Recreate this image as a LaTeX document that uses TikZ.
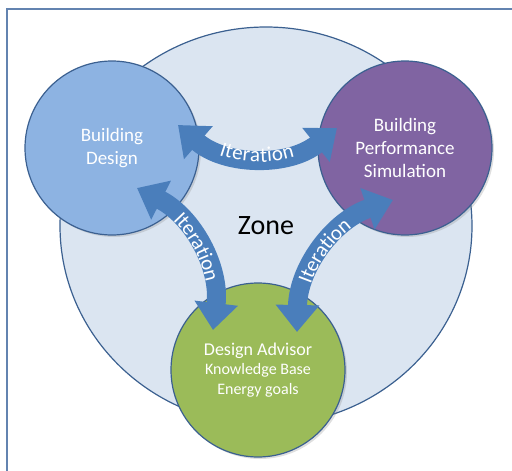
\documentclass[tikz,border=0pt]{standalone}
\usepackage{fontspec}
\setmainfont{Carlito}
\usepackage{tikz}
\usetikzlibrary{shapes.geometric}
\usetikzlibrary{arrows.meta}
\usetikzlibrary{decorations.text}
\usetikzlibrary{shadows}
\definecolor{zonefill}{HTML}{DBE5F1}
\definecolor{zoneline}{HTML}{3B6090}
\definecolor{framecol}{HTML}{6383B0}
\definecolor{designcol}{HTML}{8DB3E2}
\definecolor{simcol}{HTML}{8064A2}
\definecolor{advisorcol}{HTML}{9BBB59}
\definecolor{itercol}{HTML}{4A7EBB}
\tikzstyle{zone}=[ellipse,draw=zoneline,fill=zonefill,line width=1.2pt,minimum width=412pt,minimum height=398pt,inner sep=0pt,
  font=\fontsize{28}{30}\selectfont]
\tikzstyle{stage}=[circle,draw=zoneline,line width=1.2pt,minimum size=174pt,inner sep=0pt,align=center,text=white,
  font=\fontsize{19}{23}\selectfont,drop shadow={opacity=0.25,shadow xshift=2pt,shadow yshift=-2pt}]
\tikzstyle{iter}=[draw=itercol,line width=19pt,{Triangle[width=42pt,length=27pt]}-{Triangle[width=42pt,length=27pt]}]
\tikzstyle{itertext}=[decorate,decoration={text along path,text align=center,raise=-5.5pt,
  text={|\color{white}\fontsize{21}{21}\selectfont|Iteration}}]
\tikzset{every picture/.style={x=1pt,y=-1pt}}

\begin{document}
\begin{tikzpicture}
  \useasboundingbox (0,0) rectangle (512,471);
  \draw[framecol,line width=2pt] (512,9) -- (7,9) -- (7,471);
  \node[zone] at (266,226) (zone) {Zone};
  \node[stage,fill=designcol] at (112,148) (design) {Building\\Design};
  \node[stage,fill=simcol] at (405,148) (sim) {Building\\Performance\\Simulation};
  \node[stage,fill=advisorcol,font=\fontsize{16}{19.5}\selectfont] at (258,370) (advisor)
    {{\fontsize{18}{21}\selectfont Design Advisor}\\Knowledge Base\\Energy goals};
  \coordinate (design-sim) at (178,125);
  \coordinate (sim-design) at (337,128);
  \coordinate (design-adv) at (137,188);
  \coordinate (adv-design) at (213,330);
  \coordinate (adv-sim) at (297,332);
  \coordinate (sim-adv) at (393,200);
  \draw[iter] (design-sim) to[bend right=40] (sim-design);
  \path[itertext] (design-sim) to[bend right=40] (sim-design);
  \draw[iter] (design-adv) to[bend left=35] (adv-design);
  \path[itertext] (design-adv) to[bend left=35] (adv-design);
  \draw[iter] (adv-sim) to[bend left=35] (sim-adv);
  \path[itertext] (adv-sim) to[bend left=35] (sim-adv);
\end{tikzpicture}
\end{document}
